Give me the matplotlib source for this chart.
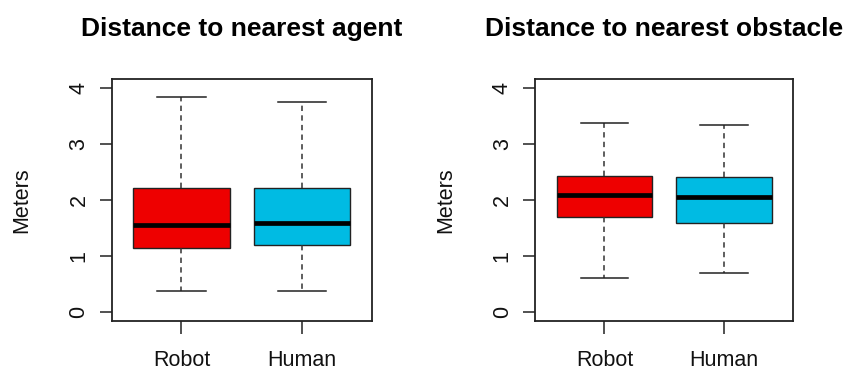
import matplotlib
matplotlib.use("Agg")
import matplotlib.pyplot as plt

plt.rcParams['font.family'] = ['Liberation Sans', 'DejaVu Sans']

# values (meters)
groups = ["Robot", "Human"]
colors = ["#EE0000", "#00BBE3"]

agent_low = [0.38, 0.38]
agent_q1 = [1.14, 1.20]
agent_med = [1.56, 1.60]
agent_q3 = [2.22, 2.22]
agent_high = [3.85, 3.75]

obst_low = [0.60, 0.70]
obst_q1 = [1.70, 1.60]
obst_med = [2.09, 2.05]
obst_q3 = [2.44, 2.41]
obst_high = [3.37, 3.34]

edge = "#222222"


def make_stats(low, q1, med, q3, high):
    stats = []
    for i in range(len(groups)):
        stats.append({"label": groups[i], "whislo": low[i], "q1": q1[i],
                      "med": med[i], "q3": q3[i], "whishi": high[i], "fliers": []})
    return stats


def draw_panel(ax, stats, title):
    bp = ax.bxp(stats, positions=[1, 2], widths=0.8, capwidths=0.4,
                patch_artist=True, showfliers=False,
                boxprops=dict(edgecolor=edge, linewidth=1.0),
                medianprops=dict(color="black", linewidth=3.4, solid_capstyle="butt"),
                whiskerprops=dict(color="#333333", linewidth=1.1, linestyle=(0, (3.5, 2.8))),
                capprops=dict(color=edge, linewidth=1.1))
    for patch, c in zip(bp["boxes"], colors):
        patch.set_facecolor(c)
    ax.set_xlim(0.42, 2.58)
    ax.set_ylim(-0.16, 4.16)
    ax.set_yticks([0, 1, 2, 3, 4])
    ax.set_yticklabels(["0", "1", "2", "3", "4"], rotation=90, va="center")
    ax.set_xticks([1, 2])
    ax.set_xticklabels(groups)
    ax.tick_params(axis="both", direction="out", length=9, width=1.1, color=edge,
                   labelsize=15.5, labelcolor="#111111")
    ax.tick_params(axis="y", pad=7)
    ax.tick_params(axis="x", pad=12)
    for s in ax.spines.values():
        s.set_color(edge)
        s.set_linewidth(1.3)
    ax.set_ylabel("Meters", fontsize=15.5, labelpad=26, color="#111111")
    ax.set_title(title, fontsize=19, fontweight="bold", pad=31)


fig = plt.figure(figsize=(8.44, 3.71), dpi=100)
ax1 = fig.add_axes([0.1323, 0.1348, 0.308, 0.6515])
ax2 = fig.add_axes([0.634, 0.1348, 0.306, 0.6515])

draw_panel(ax1, make_stats(agent_low, agent_q1, agent_med, agent_q3, agent_high),
           "Distance to nearest agent")
draw_panel(ax2, make_stats(obst_low, obst_q1, obst_med, obst_q3, obst_high),
           "Distance to nearest obstacle")

fig.savefig("out.png", dpi=100)
